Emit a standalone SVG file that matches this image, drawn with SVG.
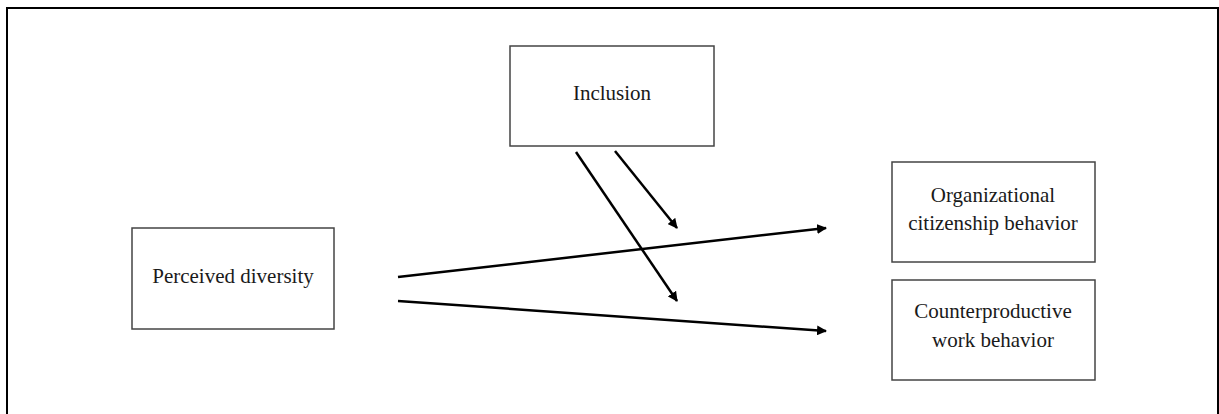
<svg xmlns="http://www.w3.org/2000/svg" width="1219" height="414" viewBox="0 0 1219 414">
<style>
.box{fill:#fff;stroke:#444;stroke-width:1.5}
.t{font-family:"Liberation Serif","Times New Roman",serif;font-size:21px;fill:#1a1a1a;text-anchor:middle}
.c{stroke:#000;stroke-width:2.5;fill:none;marker-end:url(#ah)}
</style>
<defs>
<marker id="ah" viewBox="0 0 10 10" refX="9" refY="5" markerWidth="4" markerHeight="4" markerUnits="strokeWidth" orient="auto">
<path d="M0,0 L10,5 L0,10 z" fill="#000"/>
</marker>
</defs>
<rect width="1219" height="414" fill="#fff"/>
<path d="M7,420 V8 H1218 V420" fill="none" stroke="#000" stroke-width="2"/>
<g id="inclusion"><rect class="box" x="510" y="46" width="204" height="100"/><text class="t" x="612" y="100">Inclusion</text></g>
<g id="perceived"><rect class="box" x="132" y="228" width="202" height="101"/><text class="t" x="233" y="283">Perceived diversity</text></g>
<g id="ocb"><rect class="box" x="892" y="162" width="203" height="100"/><text class="t" x="993" y="202">Organizational</text><text class="t" x="993" y="230">citizenship behavior</text></g>
<g id="cwb"><rect class="box" x="892" y="280" width="203" height="100"/><text class="t" x="993" y="318">Counterproductive</text><text class="t" x="993" y="347">work behavior</text></g>
<g id="connectors">
<line class="c" x1="398" y1="277" x2="826" y2="228"/>
<line class="c" x1="398" y1="301" x2="826" y2="331"/>
<line class="c" x1="576" y1="152" x2="677" y2="301"/>
<line class="c" x1="615" y1="151" x2="677" y2="228"/>
</g>
</svg>
